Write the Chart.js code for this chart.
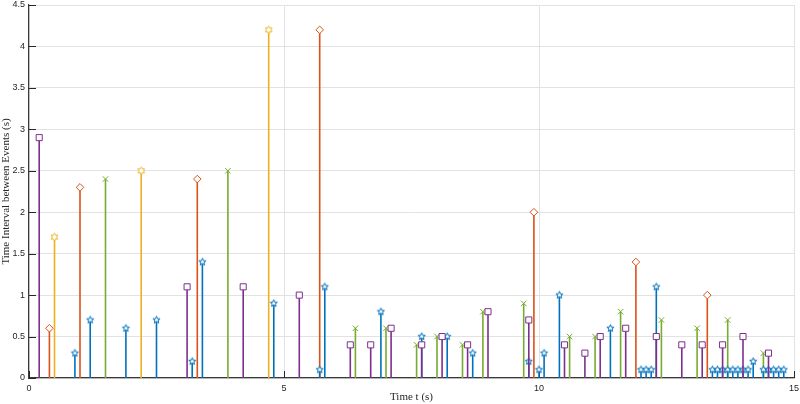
<!DOCTYPE html>
<html><head><meta charset="utf-8">
<script src="https://cdn.jsdelivr.net/npm/chart.js@4.4.1/dist/chart.umd.min.js"></script>
<style>html,body{margin:0;padding:0;background:#fff;overflow:hidden}#wrap{width:800px;height:404px}</style>
</head><body><div id="wrap"><canvas id="c" width="800" height="404"></canvas></div>
<script>
// ---- tick labels ----
const xTicks = [0, 5, 10, 15];
const xTickLabels = ['0', '5', '10', '15'];
const yTicks = [0, 0.5, 1, 1.5, 2, 2.5, 3, 3.5, 4, 4.5];
const yTickLabels = ['0', '0.5', '1', '1.5', '2', '2.5', '3', '3.5', '4', '4.5'];

// ---- series: event times (s) and intervals (s) ----
const blueTimes = [0.9, 1.2, 1.9, 2.5, 3.2, 3.4, 4.8, 5.7, 5.8, 6.9, 7.7, 8.2, 8.7, 9.8, 10.0, 10.1, 10.4, 11.4, 12.0, 12.1, 12.2, 12.3, 13.4, 13.5, 13.6, 13.7, 13.8, 13.9, 14.0, 14.1, 14.2, 14.4, 14.5, 14.6, 14.7, 14.8];
const blueValues = [0.3, 0.7, 0.6, 0.7, 0.2, 1.4, 0.9, 0.1, 1.1, 0.8, 0.5, 0.5, 0.3, 0.2, 0.1, 0.3, 1.0, 0.6, 0.1, 0.1, 0.1, 1.1, 0.1, 0.1, 0.1, 0.1, 0.1, 0.1, 0.1, 0.1, 0.2, 0.1, 0.1, 0.1, 0.1, 0.1];

const orangeTimes = [0.4, 1.0, 3.3, 5.7, 9.9, 11.9, 13.3];
const orangeValues = [0.6, 2.3, 2.4, 4.2, 2.0, 1.4, 1.0];

const yellowTimes = [0.5, 2.2, 4.7];
const yellowValues = [1.7, 2.5, 4.2];

const purpleTimes = [0.2, 3.1, 4.2, 5.3, 6.3, 6.7, 7.1, 7.7, 8.1, 8.6, 9.0, 9.8, 10.5, 10.9, 11.2, 11.7, 12.3, 12.8, 13.2, 13.6, 14.0, 14.5];
const purpleValues = [2.9, 1.1, 1.1, 1.0, 0.4, 0.4, 0.6, 0.4, 0.5, 0.4, 0.8, 0.7, 0.4, 0.3, 0.5, 0.6, 0.5, 0.4, 0.4, 0.4, 0.5, 0.3];

const greenTimes = [1.5, 3.9, 6.4, 7.0, 7.6, 8.0, 8.5, 8.9, 9.7, 10.6, 11.1, 11.6, 12.4, 13.1, 13.7, 14.4];
const greenValues = [2.4, 2.5, 0.6, 0.6, 0.4, 0.5, 0.4, 0.8, 0.9, 0.5, 0.5, 0.8, 0.7, 0.6, 0.7, 0.3];

// ---- marker glyphs ----
function starCanvas(n, color, outer, inner) {
  const s = Math.ceil(outer * 2 + 3);
  const cv = document.createElement('canvas');
  cv.width = s; cv.height = s;
  const g = cv.getContext('2d');
  g.translate(s / 2, s / 2);
  g.beginPath();
  for (let k = 0; k < 2 * n; k++) {
    const r = k % 2 === 0 ? outer : inner;
    const a = -Math.PI / 2 + k * Math.PI / n;
    const px = r * Math.cos(a), py = r * Math.sin(a);
    if (k === 0) g.moveTo(px, py); else g.lineTo(px, py);
  }
  g.closePath();
  g.fillStyle = '#fff'; g.fill();
  g.strokeStyle = color; g.lineWidth = 1; g.stroke();
  return cv;
}

function stems(times, values) {
  const out = [];
  times.forEach((t, i) => {
    out.push({x: t, y: 0});
    out.push({x: t, y: values[i]});
    out.push({x: t, y: null});
  });
  return out;
}

function series(times, values, color, style, radius) {
  return {
    data: stems(times, values),
    showLine: true,
    spanGaps: false,
    borderColor: color,
    borderWidth: 1.6,
    backgroundColor: '#fff',
    pointBorderColor: color,
    pointBackgroundColor: '#fff',
    pointBorderWidth: 1,
    pointStyle: style,
    pointRadius: ctx => (ctx.dataIndex % 3 === 1 ? radius : 0),
    pointHoverRadius: ctx => (ctx.dataIndex % 3 === 1 ? radius : 0),
    tension: 0
  };
}

const C = {blue: '#0072BD', orange: '#D95319', yellow: '#EDB120', purple: '#7E2F8E', green: '#77AC30'};

const inTicks = {
  id: 'inTicks',
  beforeDatasetsDraw(chart) {
    const {ctx, chartArea: a, scales: {x, y}} = chart;
    ctx.save();
    ctx.strokeStyle = '#262626';
    ctx.lineWidth = 1;
    ctx.beginPath();
    yTicks.forEach(v => {
      const py = Math.round(y.getPixelForValue(v)) + 0.5;
      ctx.moveTo(a.left, py); ctx.lineTo(a.left + 7, py);
    });
    xTicks.forEach(v => {
      const px = Math.round(x.getPixelForValue(v)) + 0.5;
      ctx.moveTo(px, a.bottom); ctx.lineTo(px, a.bottom - 7);
    });
    ctx.stroke();
    ctx.restore();
  }
};

new Chart(document.getElementById('c'), {
  type: 'scatter',
  data: {
    datasets: [
      series(purpleTimes, purpleValues, C.purple, 'rect', 4.3),
      series(blueTimes, blueValues, C.blue, starCanvas(5, C.blue, 3.8, 1.6), 4),
      series(greenTimes, greenValues, C.green, 'crossRot', 3.9),
      series(yellowTimes, yellowValues, C.yellow, starCanvas(6, C.yellow, 3.8, 2.2), 4),
      series(orangeTimes, orangeValues, C.orange, 'rectRot', 3.8)
    ]
  },
  options: {
    responsive: false,
    animation: false,
    devicePixelRatio: 1,
    layout: {padding: {top: 0, right: 0, bottom: 0, left: 0}},
    plugins: {legend: {display: false}, tooltip: {enabled: false}},
    scales: {
      x: {
        type: 'linear', min: 0, max: 15,
        afterBuildTicks: s => { s.ticks = xTicks.map(v => ({value: v})); },
        ticks: {
          callback: v => xTickLabels[xTicks.indexOf(v)],
          font: {family: 'Liberation Sans', size: 9}, color: '#262626',
          padding: 5, maxRotation: 0, autoSkip: false
        },
        grid: {color: '#e2e2e2', drawTicks: false, lineWidth: 1},
        border: {display: true, color: '#3a3a3a', width: 1.2},
        title: {
          display: true, text: 'Time t (s)', color: '#262626',
          font: {family: 'Liberation Serif', size: 11, lineHeight: 1},
          padding: {top: 0, bottom: 1}
        },
        afterFit: s => { s.height = 26; s.paddingRight = 6; s.paddingLeft = 0; }
      },
      y: {
        type: 'linear', min: 0, max: 4.5,
        afterBuildTicks: s => { s.ticks = yTicks.map(v => ({value: v})); },
        ticks: {
          callback: v => yTickLabels[yTicks.indexOf(v)],
          font: {family: 'Liberation Sans', size: 9}, color: '#262626',
          padding: 4, autoSkip: false
        },
        grid: {color: '#e2e2e2', drawTicks: false, lineWidth: 1},
        border: {display: true, color: '#3a3a3a', width: 1.2},
        title: {
          display: true, text: 'Time Interval between Events (s)', color: '#262626',
          font: {family: 'Liberation Serif', size: 11, lineHeight: 1},
          padding: {top: 1, bottom: 0}
        },
        afterFit: s => { s.width = 29; s.paddingTop = 5; s.paddingBottom = 0; }
      }
    }
  },
  plugins: [inTicks]
});
</script>
</body></html>
